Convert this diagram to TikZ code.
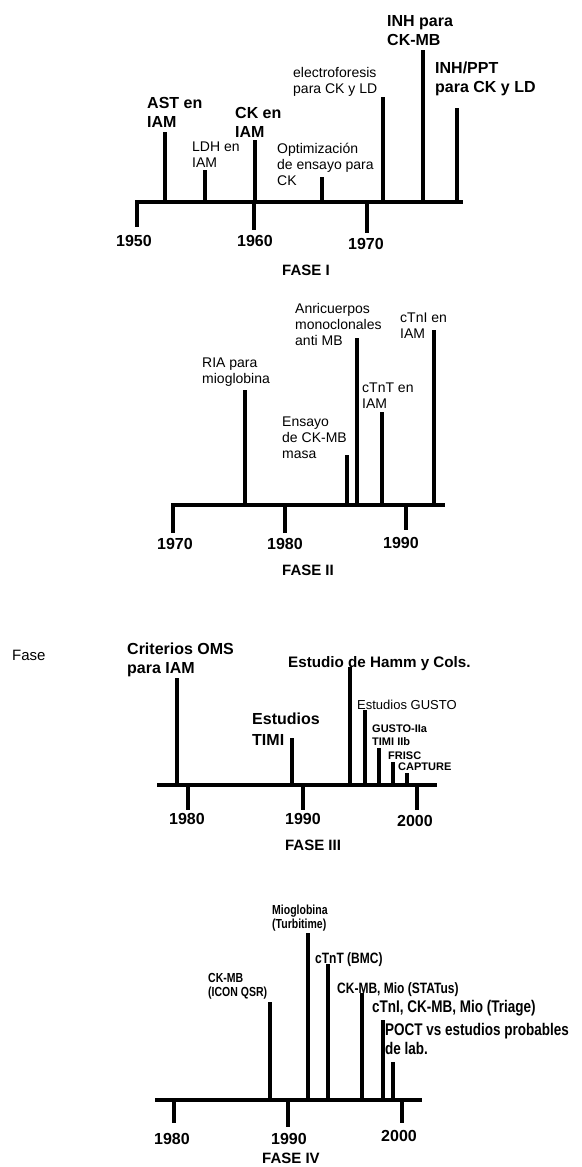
\documentclass[tikz,border=0pt]{standalone}
\usepackage{fontspec}
\setmainfont{Liberation Sans}
\usepackage{tikz}

\begin{document}
\begin{tikzpicture}[x=1pt, y=-1pt,
    bar/.style={line width=3.4pt},
    axisline/.style={line width=4pt},
    lbl/.style={anchor=north west, inner sep=0pt, align=left, font=\fontsize{14}{16}\selectfont},
    lblbig/.style={lbl, font=\bfseries\fontsize{16}{19}\selectfont},
    lblsmall/.style={lbl, font=\bfseries\fontsize{11}{13}\selectfont},
    lblfour/.style={lbl, yscale=1.25, font=\bfseries\fontsize{12}{11.2}\selectfont},
    yr/.style={anchor=north, inner sep=0pt, font=\bfseries\fontsize{16}{16}\selectfont},
    fase/.style={anchor=north, inner sep=0pt, font=\bfseries\fontsize{15}{15}\selectfont}]
  \useasboundingbox (0,0) rectangle (581,1167);

  % FASE I, 1950 to 1970
  \coordinate (f1-l) at (135.3,202);
  \coordinate (f1-r) at (463,202);
  \draw[axisline] (f1-l) -- (f1-r);
  \coordinate (f1-a50) at (137,202); \coordinate (f1-b50) at (137,227);
  \coordinate (f1-a60) at (254,202); \coordinate (f1-b60) at (254,230);
  \coordinate (f1-a70) at (367,202); \coordinate (f1-b70) at (367,233);
  \draw[bar] (f1-a50) -- (f1-b50);
  \draw[bar] (f1-a60) -- (f1-b60);
  \draw[bar] (f1-a70) -- (f1-b70);
  \node[yr] (y1950) at (134,235) {1950};
  \node[yr] (y1960) at (255,235) {1960};
  \node[yr] (y1970) at (366,238) {1970};
  \node[fase] (fase1) at (306,265) {FASE I};

  \coordinate (ast-b) at (165,202); \coordinate (ast-t) at (165,132);
  \coordinate (ldh-b) at (205,202); \coordinate (ldh-t) at (205,170);
  \coordinate (cken-b) at (255,202); \coordinate (cken-t) at (255,140);
  \coordinate (opt-b) at (322,202); \coordinate (opt-t) at (322,177);
  \coordinate (elec-b) at (383,202); \coordinate (elec-t) at (383,97);
  \coordinate (inh-b) at (423,202); \coordinate (inh-t) at (423,50);
  \coordinate (ppt-b) at (457,202); \coordinate (ppt-t) at (457,108);
  \draw[bar] (ast-b) -- (ast-t);
  \draw[bar] (ldh-b) -- (ldh-t);
  \draw[bar] (cken-b) -- (cken-t);
  \draw[bar] (opt-b) -- (opt-t);
  \draw[bar] (elec-b) -- (elec-t);
  \draw[bar] (inh-b) -- (inh-t);
  \draw[bar] (ppt-b) -- (ppt-t);
  \node[lblbig] (ast) at (147,97) {AST en\\IAM};
  \node[lbl] (ldh) at (192,142) {LDH en\\IAM};
  \node[lblbig] (cken) at (235,107) {CK en\\IAM};
  \node[lbl] (opt) at (277,143) {Optimización\\de ensayo para\\CK};
  \node[lbl] (elec) at (293,67) {electroforesis\\para CK y LD};
  \node[lblbig] (inh) at (387,15) {INH para\\CK-MB};
  \node[lblbig] (ppt) at (435,62) {INH/PPT\\para CK y LD};

  % FASE II, 1970 to 1990
  \coordinate (f2-l) at (171.3,505);
  \coordinate (f2-r) at (445,505);
  \draw[axisline] (f2-l) -- (f2-r);
  \coordinate (f2-a70) at (173,505); \coordinate (f2-b70) at (173,533);
  \coordinate (f2-a80) at (285,505); \coordinate (f2-b80) at (285,533);
  \coordinate (f2-a90) at (406,505); \coordinate (f2-b90) at (406,530);
  \draw[bar] (f2-a70) -- (f2-b70);
  \draw[bar] (f2-a80) -- (f2-b80);
  \draw[bar] (f2-a90) -- (f2-b90);
  \node[yr] (y2-1970) at (175,538) {1970};
  \node[yr] (y2-1980) at (285,538) {1980};
  \node[yr] (y2-1990) at (401,537) {1990};
  \node[fase] (fase2) at (308,565) {FASE II};

  \coordinate (ria-b) at (245,505); \coordinate (ria-t) at (245,390);
  \coordinate (ens-b) at (347,505); \coordinate (ens-t) at (347,455);
  \coordinate (anr-b) at (357,505); \coordinate (anr-t) at (357,338);
  \coordinate (ctnt-b) at (382,505); \coordinate (ctnt-t) at (382,412);
  \coordinate (ctni-b) at (434,505); \coordinate (ctni-t) at (434,330);
  \draw[bar] (ria-b) -- (ria-t);
  \draw[bar] (ens-b) -- (ens-t);
  \draw[bar] (anr-b) -- (anr-t);
  \draw[bar] (ctnt-b) -- (ctnt-t);
  \draw[bar] (ctni-b) -- (ctni-t);
  \node[lbl] (ria) at (202,358) {RIA para\\mioglobina};
  \node[lbl] (ens) at (282,417) {Ensayo\\de CK-MB\\masa};
  \node[lbl] (anr) at (295,303) {Anricuerpos\\monoclonales\\anti MB};
  \node[lbl] (ctnt) at (362,383) {cTnT en\\IAM};
  \node[lbl] (ctni) at (400,313) {cTnI en\\IAM};

  % FASE III, 1980 to 2000
  \node[lbl, font=\fontsize{15}{17}\selectfont] (fase-txt) at (12,650) {Fase};
  \coordinate (f3-l) at (157,785);
  \coordinate (f3-r) at (437,785);
  \draw[axisline] (f3-l) -- (f3-r);
  \coordinate (f3-a80) at (188,785); \coordinate (f3-b80) at (188,810);
  \coordinate (f3-a90) at (303,785); \coordinate (f3-b90) at (303,810);
  \coordinate (f3-a00) at (417,785); \coordinate (f3-b00) at (417,810);
  \draw[bar] (f3-a80) -- (f3-b80);
  \draw[bar] (f3-a90) -- (f3-b90);
  \draw[bar] (f3-a00) -- (f3-b00);
  \node[yr] (y3-1980) at (187,813) {1980};
  \node[yr] (y3-1990) at (303,813) {1990};
  \node[yr] (y3-2000) at (415,815) {2000};
  \node[fase] (fase3) at (313,840) {FASE III};

  \coordinate (oms-b) at (177,785); \coordinate (oms-t) at (177,678);
  \coordinate (timi-b) at (292,785); \coordinate (timi-t) at (292,738);
  \coordinate (hamm-b) at (350,785); \coordinate (hamm-t) at (350,667);
  \coordinate (gusto-b) at (365,785); \coordinate (gusto-t) at (365,710);
  \coordinate (g2-b) at (379,785); \coordinate (g2-t) at (379,748);
  \coordinate (frisc-b) at (393,785); \coordinate (frisc-t) at (393,762);
  \coordinate (capt-b) at (407,785); \coordinate (capt-t) at (407,773);
  \draw[bar] (oms-b) -- (oms-t);
  \draw[bar] (timi-b) -- (timi-t);
  \draw[bar] (hamm-b) -- (hamm-t);
  \draw[bar] (gusto-b) -- (gusto-t);
  \draw[bar] (g2-b) -- (g2-t);
  \draw[bar] (frisc-b) -- (frisc-t);
  \draw[bar] (capt-b) -- (capt-t);
  \node[lblbig] (oms) at (127,643) {Criterios OMS\\para IAM};
  \node[lblbig, font=\bfseries\fontsize{16}{21}\selectfont] (timi) at (252,713) {Estudios\\TIMI};
  \node[lblbig, font=\bfseries\fontsize{15.2}{19}\selectfont] (hamm) at (288,656) {Estudio de Hamm y Cols.};
  \node[lbl, font=\fontsize{13}{14}\selectfont] (gusto) at (357,700) {Estudios GUSTO};
  \node[lblsmall] (g2) at (372,725) {GUSTO-IIa\\TIMI IIb};
  \node[lblsmall] (frisc) at (388,752) {FRISC};
  \node[lblsmall] (capt) at (398,763) {CAPTURE};

  % FASE IV, 1980 to 2000
  \coordinate (f4-l) at (155,1100);
  \coordinate (f4-r) at (422,1100);
  \draw[axisline] (f4-l) -- (f4-r);
  \coordinate (f4-a80) at (174,1100); \coordinate (f4-b80) at (174,1123);
  \coordinate (f4-a90) at (288,1100); \coordinate (f4-b90) at (288,1127);
  \coordinate (f4-a00) at (402,1100); \coordinate (f4-b00) at (402,1123);
  \draw[bar] (f4-a80) -- (f4-b80);
  \draw[bar] (f4-a90) -- (f4-b90);
  \draw[bar] (f4-a00) -- (f4-b00);
  \node[yr] (y4-1980) at (172,1133) {1980};
  \node[yr] (y4-1990) at (289,1133) {1990};
  \node[yr] (y4-2000) at (399,1130) {2000};
  \node[fase] (fase4) at (291,1153) {FASE IV};

  \coordinate (ckmb-b) at (270,1100); \coordinate (ckmb-t) at (270,1002);
  \coordinate (mio-b) at (308,1100); \coordinate (mio-t) at (308,933);
  \coordinate (bmc-b) at (328,1100); \coordinate (bmc-t) at (328,964);
  \coordinate (stat-b) at (362,1100); \coordinate (stat-t) at (362,993);
  \coordinate (tri-b) at (383,1100); \coordinate (tri-t) at (383,1020);
  \coordinate (poct-b) at (393,1100); \coordinate (poct-t) at (393,1062);
  \draw[bar] (ckmb-b) -- (ckmb-t);
  \draw[bar] (mio-b) -- (mio-t);
  \draw[bar] (bmc-b) -- (bmc-t);
  \draw[bar] (stat-b) -- (stat-t);
  \draw[bar] (tri-b) -- (tri-t);
  \draw[bar] (poct-b) -- (poct-t);
  \node[lblfour, font=\bfseries\fontsize{10.5}{11.2}\selectfont] (ckmb) at (208,973) {CK-MB\\(ICON QSR)};
  \node[lblfour, font=\bfseries\fontsize{10.5}{11.2}\selectfont] (mio) at (272,905) {Mioglobina\\(Turbitime)};
  \node[lblfour] (bmc) at (315,952) {cTnT (BMC)};
  \node[lblfour] (stat) at (337,982) {CK-MB, Mio (STATus)};
  \node[lblfour, font=\bfseries\fontsize{13.5}{15.2}\selectfont] (tri) at (372,1000) {cTnI, CK-MB, Mio (Triage)};
  \node[lblfour, font=\bfseries\fontsize{13.5}{15.2}\selectfont] (poct) at (385,1023) {POCT vs estudios probables\\de lab.};
\end{tikzpicture}
\end{document}
